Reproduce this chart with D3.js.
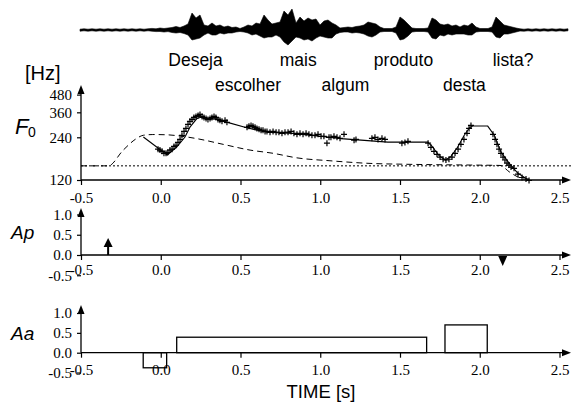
<!DOCTYPE html>
<html><head><meta charset="utf-8">
<script src="https://cdn.jsdelivr.net/npm/d3@7"></script>
<style>body{margin:0;background:#fff}svg{display:block}</style>
</head><body><svg id="c" width="571" height="403"></svg>
<script>
// ---------- data ----------
const xTicks = [-0.5, 0, 0.5, 1, 1.5, 2, 2.5];
const xTickLabels = ["-0.5", "0.0", "0.5", "1.0", "1.5", "2.0", "2.5"];
const f0Ticks = [120, 240, 360, 480];
const f0TickLabels = ["120", "240", "360", "480"];
const cmdTicks = [-0.5, 0, 0.5, 1];
const cmdTickLabels = ["-0.5", "0.0", "0.5", "1.0"];

const words1 = ["Deseja", "mais", "produto", "lista?"];
const words1Time = [0.218, 0.862, 1.522, 2.209];
const words2 = ["escolher", "algum", "desta"];
const words2Time = [0.547, 1.158, 1.904];

// speech waveform envelope (arbitrary amplitude units), equally spaced samples
const waveHi = [0.8,1.2,0.8,1.2,0.8,1.2,0.8,1.2,0.8,1.2,0.8,1.2,0.8,1.2,0.8,1.2,0.8,1.2,1.6,1.2,2,1.5,2,2.5,3.5,2.5,4,6,17,12,15,5,4,7,4,5,3,4,2.5,3,1.5,3,5,4,7,6,15,10,6,7,8,19,15,21,7,13,9,12,10,11,5,9,10,7,5,2,2.5,3,2.5,3.5,4,5,8,7,6,3,1.5,1.5,1.5,3,13,10,6,2,1.5,1.5,1.5,2,12,10,6,5,6,4,5,3,5,4,7,3,1.5,1.5,1.5,3,13,9,5,4,3,2,1.2,0.8,1.2,0.8,1.2,0.8,1.2,0.8,1.2,0.8,1.2,0.8,1.2];
const waveLo = [1.2,0.8,1.2,0.8,1.2,0.8,1.2,0.8,1.2,0.8,1.2,0.8,1.2,0.8,1.2,0.8,1.2,0.8,1.2,1.6,1.5,2,1.6,2.5,3,2.5,3.5,5,10,9,8,5,3,5,5,3,4,3,3,2,1.5,2,3,5,4,6,8,7,7,5,7,12,15,11,7,8,10,9,11,8,6,7,8,8,4,2.5,2,2,3,2.5,3,4,6,7,5,2,1.5,1.5,1.5,3,10,9,6,2,1.5,1.5,1.5,2,8,9,5,6,4,5,4,4,4,5,5,2,1.5,1.5,1.5,2,7,8,4,4,3,2,1,1.2,0.8,1.2,0.8,1.2,0.8,1.2,0.8,1.2,0.8,1.2,0.8];

const fmin = 151;
const f0Obs = [[-0.017,198],[-0.005,195],[0.008,191],[0.020,185],[0.033,185],[0.045,188],[0.058,195],[0.071,198],[0.083,207],[0.096,211],[0.108,221],[0.121,232],[0.133,248],[0.146,264],[0.158,277],[0.171,296],[0.183,311],[0.196,321],[0.208,331],[0.221,337],[0.234,342],[0.246,348],[0.259,337],[0.271,331],[0.284,326],[0.296,321],[0.309,326],[0.321,331],[0.334,337],[0.346,331],[0.359,321],[0.371,316],[0.384,311],[0.403,316],[0.415,306],
[0.541,282],[0.553,287],[0.566,291],[0.578,287],[0.591,282],[0.603,277],[0.616,273],[0.629,269],[0.641,269],[0.654,264],[0.666,264],[0.685,260],[0.704,264],[0.723,260],[0.741,260],[0.760,256],[0.779,260],[0.798,260],[0.817,264],[0.835,256],[0.854,252],[0.873,256],[0.892,252],[0.911,256],[0.929,252],[0.948,248],[0.967,248],[0.986,252],[1.005,244],[1.023,244],[1.042,218],[1.055,240],
[1.067,240],[1.086,244],[1.105,240],[1.124,236],[1.149,252],[1.212,229],[1.224,232],[1.324,236],[1.343,240],[1.362,232],[1.387,236],[1.406,232],[1.512,218],[1.531,221],[1.550,225],
[1.676,218],[1.694,204],[1.713,191],[1.732,182],[1.751,174],[1.770,168],[1.788,166],[1.807,168],[1.826,174],[1.845,185],[1.864,198],[1.882,214],[1.901,232],[1.920,256],[1.933,277],[1.945,291],
[2.083,252],[2.096,232],[2.108,214],[2.121,198],[2.133,185],[2.146,174],[2.158,166],[2.171,158],[2.183,153],[2.196,148],[2.215,145],[2.240,132],[2.265,125],[2.290,122],[2.309,119]];
const f0Model = [[-0.109,241],[0.041,180],[0.100,205],[0.152,241],[0.183,283],[0.225,324],[0.250,332],[0.288,321],[0.351,324],[0.413,307],[0.539,280],[0.664,261],[0.831,255],[1.040,241],[1.130,235],[1.423,222],[1.674,222],[1.700,208],[1.745,178],[1.785,166],[1.820,176],[1.862,205],[1.900,245],[1.935,280],[1.956,288],[2.050,288],[2.091,248],[2.133,189],[2.185,157],[2.238,134],[2.311,119]];
const phrase = [[-0.5,151],[-0.329,151],[-0.235,195],[-0.160,232],[-0.109,248],[-0.05,251],[0.037,250],[0.121,245],[0.225,235],[0.392,214],[0.560,195],[0.706,185],[0.852,172],[1.061,164],[1.318,157],[1.525,155],[1.694,154],[1.94,153],[2.127,152],[2.185,137],[2.207,132],[2.25,124]];

const apTime = [-0.33, 2.144];
const apAmp = [0.42, -0.27];
const aaOn = [-0.11, 0.10, 1.782];
const aaOff = [0.037, 1.667, 2.047];
const aaAmp = [-0.38, 0.39, 0.70];

// ---------- drawing ----------
const svg = d3.select("#c");
const SANS = "'Liberation Sans', Arial, Helvetica, sans-serif";
const SERIF = "'Liberation Serif', 'Times New Roman', serif";
const x = d3.scaleLinear().domain([-0.5, 2.5]).range([81, 559.5]);
const xEnd = 571;

// waveform
const wx = d3.scaleLinear().domain([0, waveHi.length - 1]).range([80, 568]);
const wy = d3.scaleLinear().domain([-20, 20]).range([50, 10]);
svg.append("path")
  .datum(waveHi.map((h, i) => [i, h, waveLo[i]]))
  .attr("fill", "#000").attr("stroke", "#000").attr("stroke-width", 0.6)
  .attr("d", d3.area().x(d => wx(d[0])).y0(d => wy(-d[2])).y1(d => wy(d[1])));

// words
words1.forEach((w, i) => svg.append("text").attr("x", x(words1Time[i])).attr("y", 66)
  .attr("text-anchor", "middle").attr("font-family", SANS).attr("font-size", 17.5).text(w));
words2.forEach((w, i) => svg.append("text").attr("x", x(words2Time[i])).attr("y", 91)
  .attr("text-anchor", "middle").attr("font-family", SANS).attr("font-size", 17.5).text(w));

function arrowHead(g, tx, ty, dir, hw) {
  hw = hw || 3.5;
  let p;
  if (dir === "up") p = [[tx, ty], [tx - hw, ty + 9], [tx + hw, ty + 9]];
  else if (dir === "down") p = [[tx, ty], [tx - hw, ty - 9], [tx + hw, ty - 9]];
  else p = [[tx, ty], [tx - 9, ty - hw], [tx - 9, ty + hw]];
  g.append("path").attr("d", d3.line()(p) + "Z").attr("fill", "#000");
}

function xAxis(yPos, labelY) {
  const g = svg.append("g").attr("transform", `translate(0,${yPos})`);
  g.call(d3.axisBottom(x).tickValues(xTicks).tickSize(5).tickSizeOuter(0)
    .tickFormat((d, i) => xTickLabels[i]));
  g.select(".domain").remove();
  g.selectAll(".tick line").attr("stroke", "#000").attr("stroke-width", 1.2);
  g.selectAll(".tick text").attr("y", labelY).attr("dy", null)
    .attr("font-family", SERIF).attr("font-size", 15).attr("fill", "#000");
  g.append("line").attr("x1", x(-0.5)).attr("x2", xEnd - 4).attr("y1", 0).attr("y2", 0)
    .attr("stroke", "#000").attr("stroke-width", 1.3);
  arrowHead(g, xEnd, 0, "right");
}

function yAxis(scale, ticks, labels, bottomY, topY) {
  const g = svg.append("g").attr("transform", `translate(${x(-0.5)},0)`);
  g.call(d3.axisLeft(scale).tickValues(ticks).tickSize(4).tickPadding(5)
    .tickFormat((d, i) => labels[i]));
  g.select(".domain").remove();
  g.selectAll(".tick line").attr("stroke", "#000").attr("stroke-width", 1.2);
  g.selectAll(".tick text").attr("font-family", SERIF).attr("font-size", 15).attr("fill", "#000");
  g.append("line").attr("x1", 0).attr("x2", 0).attr("y1", bottomY).attr("y2", topY + 4)
    .attr("stroke", "#000").attr("stroke-width", 1.3);
  arrowHead(g, 0, topY, "up");
}

// ---- F0 panel ----
const yF = d3.scaleLog().domain([120, 480]).range([180, 94.6]);
svg.append("line").attr("x1", x(-0.5)).attr("x2", xEnd).attr("y1", yF(fmin)).attr("y2", yF(fmin))
  .attr("stroke", "#000").attr("stroke-width", 1).attr("stroke-dasharray", "2,2");
svg.append("path").datum(phrase).attr("fill", "none").attr("stroke", "#000").attr("stroke-width", 1)
  .attr("stroke-dasharray", "6,4")
  .attr("d", d3.line().x(d => x(d[0])).y(d => yF(d[1])).curve(d3.curveMonotoneX));
svg.append("path").datum(f0Model).attr("fill", "none").attr("stroke", "#000").attr("stroke-width", 1.1)
  .attr("d", d3.line().x(d => x(d[0])).y(d => yF(d[1])));
svg.append("g").selectAll("path").data(f0Obs).join("path")
  .attr("transform", d => `translate(${x(d[0])},${yF(d[1])})`)
  .attr("d", "M-3,0H3M0,-3V3").attr("stroke", "#000").attr("stroke-width", 1.2);
xAxis(180, 23);
yAxis(yF, f0Ticks, f0TickLabels, 180, 85);
svg.append("text").attr("x", 25).attr("y", 80).attr("font-family", SANS).attr("font-size", 20).text("[Hz]");
svg.append("text").attr("x", 15).attr("y", 134).attr("font-family", SANS).attr("font-size", 22)
  .attr("font-style", "italic").text("F");
svg.append("text").attr("x", 28).attr("y", 137).attr("font-family", SANS).attr("font-size", 14).text("0");

// ---- Ap panel ----
const yP = d3.scaleLinear().domain([0, 1]).range([255, 214.5]);
apTime.forEach((t, i) => {
  const a = apAmp[i];
  const g = svg.append("g");
  const tip = yP(a);
  if (a > 0) {
    g.append("line").attr("x1", x(t)).attr("x2", x(t)).attr("y1", yP(0)).attr("y2", tip + 8)
      .attr("stroke", "#000").attr("stroke-width", 2);
    arrowHead(g, x(t), tip, "up", 4.5);
  } else {
    g.append("path").attr("d", d3.line()([[x(t), tip], [x(t) - 4.5, yP(0) + 1], [x(t) + 4.5, yP(0) + 1]]) + "Z")
      .attr("fill", "#000");
  }
});
xAxis(255, 20);
yAxis(yP, cmdTicks, cmdTickLabels, yP(0), 208);
svg.append("text").attr("x", 11).attr("y", 239).attr("font-family", SANS).attr("font-size", 19)
  .attr("font-style", "italic").text("Ap");

// ---- Aa panel ----
const yA = d3.scaleLinear().domain([0, 1]).range([352.7, 313]);
svg.append("g").selectAll("rect").data(aaAmp).join("rect")
  .attr("x", (d, i) => x(aaOn[i]))
  .attr("width", (d, i) => x(aaOff[i]) - x(aaOn[i]))
  .attr("y", d => Math.min(yA(d), yA(0)))
  .attr("height", d => Math.abs(yA(d) - yA(0)))
  .attr("fill", "none").attr("stroke", "#000").attr("stroke-width", 1.3);
xAxis(352.7, 22);
yAxis(yA, cmdTicks, cmdTickLabels, yA(0), 305);
svg.append("text").attr("x", 11).attr("y", 340).attr("font-family", SANS).attr("font-size", 19)
  .attr("font-style", "italic").text("Aa");

svg.append("text").attr("x", 321).attr("y", 398).attr("text-anchor", "middle")
  .attr("font-family", SANS).attr("font-size", 18.5).text("TIME [s]");
</script></body></html>
